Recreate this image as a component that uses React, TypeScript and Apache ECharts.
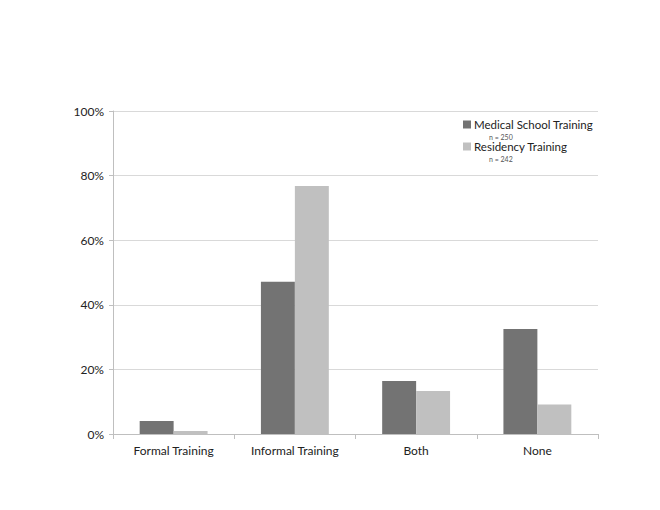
import React, { useEffect, useRef } from "react";
import * as echarts from "echarts";

const categories = ["Formal Training", "Informal Training", "Both", "None"];
const seriesNames = ["Medical School Training", "Residency Training"];
const sampleSizes = ["n = 250", "n = 242"];
const medicalSchool = [4.0, 47.1, 16.4, 32.5];
const residency = [0.9, 76.8, 13.3, 9.1];
const colors = ["#737373", "#c0c0c0"];

export default function App() {
  const ref = useRef<HTMLDivElement>(null);
  useEffect(() => {
    if (!ref.current) return;
    const chart = echarts.init(ref.current, null, { renderer: "svg" });
    const font = "Lato, 'Open Sans', sans-serif";
    chart.setOption({
      animation: false,
      backgroundColor: "#ffffff",
      textStyle: { fontFamily: font },
      grid: { left: 113, right: 62, top: 111, bottom: 76, containLabel: false },
      legend: {
        orient: "vertical",
        left: 458,
        top: 113,
        padding: 5,
        itemWidth: 8,
        itemHeight: 8,
        itemGap: 9,
        icon: "rect",
        data: seriesNames,
        textStyle: { fontFamily: font, fontSize: 11.5, lineHeight: 13, color: "#222", padding: [0, 0, 0, -2] },
      },
      graphic: sampleSizes.map((t, i) => ({
        type: "text",
        left: 489,
        top: 132.5 + i * 22,
        style: { text: t, fontFamily: font, fontSize: 7, lineHeight: 8, fill: "#555" },
      })),
      xAxis: {
        type: "category",
        data: categories,
        axisLine: { lineStyle: { color: "#bfbfbf" } },
        axisTick: { show: true, length: 5, lineStyle: { color: "#bfbfbf" } },
        axisLabel: { color: "#222", fontSize: 12, margin: 10, fontFamily: font },
      },
      yAxis: {
        type: "value",
        min: 0,
        max: 100,
        interval: 20,
        axisLine: { show: true, lineStyle: { color: "#bfbfbf" } },
        axisTick: { show: true, length: 4, lineStyle: { color: "#bfbfbf" } },
        axisLabel: { formatter: "{value}%", color: "#222", fontSize: 12, margin: 9, fontFamily: font },
        splitLine: { lineStyle: { color: "#d9d9d9" } },
      },
      series: [
        {
          name: seriesNames[0],
          type: "bar",
          data: medicalSchool,
          itemStyle: { color: colors[0] },
          barGap: "0%",
          barCategoryGap: "44%",
        },
        {
          name: seriesNames[1],
          type: "bar",
          data: residency,
          itemStyle: { color: colors[1] },
          barGap: "0%",
          barCategoryGap: "44%",
        },
      ],
    });
    return () => chart.dispose();
  }, []);
  return <div ref={ref} style={{ position: "fixed", left: 0, top: 0, width: 660, height: 510 }} />;
}
